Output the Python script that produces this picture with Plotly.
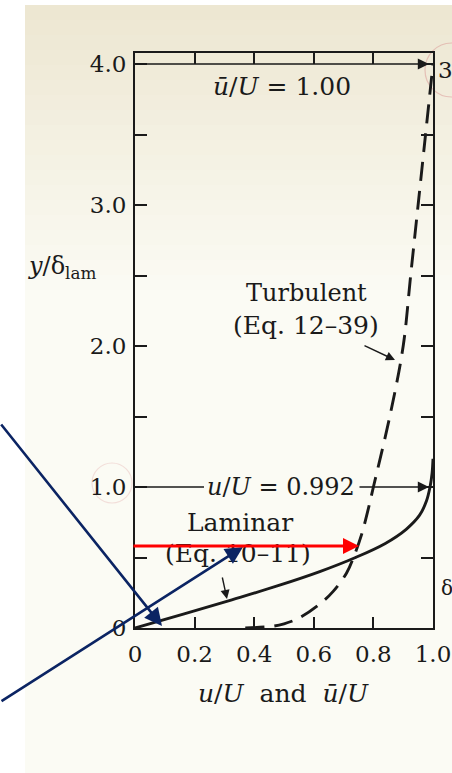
import plotly.graph_objects as go

# --- data -------------------------------------------------------------
# laminar profile (Eq. 10-11): u/U against y/delta_lam
lam_y = [0, 0.1, 0.2, 0.3, 0.4, 0.5, 0.6, 0.7, 0.8, 0.9, 1.0, 1.1, 1.2]
lam_u = [0, 0.165, 0.325, 0.48, 0.62, 0.74, 0.84, 0.91, 0.955, 0.978, 0.99, 0.997, 1.0]

# turbulent profile (Eq. 12-39): mean u/U against y/delta_lam
turb_y = [0, 0.012, 0.03, 0.07, 0.17, 0.26, 0.39, 0.51, 0.66, 0.82, 1.0,
          1.5, 2.0, 2.5, 3.0, 3.5, 4.0]
turb_u = [0.37, 0.46, 0.50, 0.55, 0.62, 0.665, 0.71, 0.735, 0.76, 0.78, 0.80,
          0.855, 0.90, 0.925, 0.95, 0.975, 1.0]

x_ticks = [0, 0.2, 0.4, 0.6, 0.8, 1.0]
x_labels = ["0", "0.2", "0.4", "0.6", "0.8", "1.0"]
y_ticks = [0, 0.5, 1.0, 1.5, 2.0, 2.5, 3.0, 3.5, 4.0]
y_labels = ["0", "", "1.0", "", "2.0", "", "3.0", "", "4.0"]

# --- page geometry (pixels) -------------------------------------------
W, H = 452, 773
X0, X1 = 135, 433          # plot frame, left/right
Y0, Y1 = 628, 53           # plot frame, bottom/top
PX_PER_Y = 141.0
Y_TOP = (Y0 - Y1) / PX_PER_Y

INK = "#1a1a1a"
SERIF = "DejaVu Serif"
NAVY = "#0b2463"
RED = "#ff0000"
NB = "\u00a0"


def px(x):
    return x / W


def py(y):
    return 1 - y / H


def dx(x):
    return (x - X0) / (X1 - X0)


def dy(y):
    return (Y0 - y) / PX_PER_Y


fig = go.Figure()

fig.add_trace(go.Scatter(x=lam_u, y=lam_y, mode="lines",
                         line=dict(color=INK, width=2.9),
                         line_shape="spline", hoverinfo="skip"))
fig.add_trace(go.Scatter(x=turb_u, y=turb_y, mode="lines",
                         line=dict(color=INK, width=2.9, dash="19px,10px"),
                         line_shape="spline", hoverinfo="skip"))

shapes = []

# aged paper: white margin, then a warm tint fading downwards
shapes.append(dict(type="rect", xref="paper", yref="paper", x0=0, x1=1, y0=0, y1=1,
                   fillcolor="white", line_width=0, layer="below"))
top_c = (237, 231, 210)
mid_c = (251, 251, 244)
band_edges = list(range(5, 300, 15)) + [H]
for i in range(len(band_edges) - 1):
    a, b = band_edges[i], band_edges[i + 1]
    t = min(1.0, (a - 5) / 280)
    c = tuple(round(top_c[k] + (mid_c[k] - top_c[k]) * t) for k in range(3))
    shapes.append(dict(type="rect", xref="paper", yref="paper",
                       x0=px(25), x1=1, y0=py(b), y1=py(a),
                       fillcolor="rgb(%d,%d,%d)" % c, line_width=0, layer="below"))

# faint pen circles on the page
shapes.append(dict(type="circle", xref="paper", yref="paper",
                   x0=px(425), x1=px(478), y0=py(97), y1=py(43),
                   line=dict(color="rgba(215,140,140,0.45)", width=1.2), layer="below"))
shapes.append(dict(type="circle", xref="paper", yref="paper",
                   x0=px(92), x1=px(132), y0=py(503), y1=py(463),
                   line=dict(color="rgba(225,170,170,0.35)", width=1.2), layer="below"))

# left part of the u/U = 0.992 leader line
shapes.append(dict(type="line", xref="x", yref="y", x0=0, x1=dx(204), y0=1.0, y1=1.0,
                   line=dict(color=INK, width=1.6)))
fig.update_layout(shapes=shapes)

ann = []


def arrow(x0, y0, x1, y1, color, width, size, head=2):
    ann.append(dict(x=x1, y=y1, ax=x0, ay=y0, xref="x", yref="y", axref="x", ayref="y",
                    text="", showarrow=True, arrowhead=head, arrowsize=size,
                    arrowwidth=width, arrowcolor=color, standoff=0, startstandoff=0))


def label(x, y, text, size=24, xanchor="center", yanchor="middle", ref="data"):
    d = dict(x=x, y=y, text=text, showarrow=False, xanchor=xanchor, yanchor=yanchor,
             font=dict(family=SERIF, size=size, color=INK))
    if ref == "paper":
        d.update(xref="paper", yref="paper")
    else:
        d.update(xref="x", yref="y")
    ann.append(d)


# reference velocities
arrow(0, 4.0, dx(429), 4.0, INK, 1.6, 1.4)
label(dx(282), dy(86), "<i>ū</i>/<i>U</i> = 1.00", size=25)
arrow(dx(358), 1.0, dx(429), 1.0, INK, 1.6, 1.4)
label(dx(281), 1.0, "<i>u</i>/<i>U</i> = 0.992", size=24)

# curve labels with pointers
label(dx(306), dy(293), "Turbulent", size=24)
label(dx(306), dy(325), "(Eq. 12–39)", size=25)
arrow(dx(363), dy(345), dx(395), dy(360), INK, 1.4, 1.3)
label(dx(240), dy(522), "Laminar", size=25)
label(dx(238), dy(553), "(Eq. 10–11)", size=25)
arrow(dx(222), dy(576), dx(227), dy(599), INK, 1.4, 1.3)

# axis titles
label(px(62), py(268), "<i>y</i>/δ<sub>lam</sub>", size=24, ref="paper")
label(px(283), py(693), "<i>u</i>/<i>U</i>" + NB * 2 + "and" + NB * 2 + "<i>ū</i>/<i>U</i>",
      size=25, ref="paper")

# fragments of the neighbouring figure at the page edge
label(px(436), py(70), "3", size=23, xanchor="left", ref="paper")
label(px(439), py(588), "δ", size=20, xanchor="left", ref="paper")

# presenter's overlay arrows
arrow(dx(0), dy(423), dx(162), dy(626), NAVY, 2.6, 1.35)
arrow(dx(0), dy(702), dx(243), dy(547), NAVY, 2.6, 1.35)
arrow(dx(132), dy(546), dx(359), dy(546), RED, 3.2, 1.0)
arrow(dx(132), dy(629), dx(193), dy(629), RED, 3.2, 1.0)

fig.update_layout(
    width=W, height=H,
    margin=dict(l=0, r=0, t=0, b=0, autoexpand=False),
    paper_bgcolor="white", plot_bgcolor="rgba(0,0,0,0)",
    showlegend=False, annotations=ann,
    xaxis=dict(domain=[px(X0), px(X1)], range=[0, 1.0], automargin=False,
               tickvals=x_ticks, ticktext=x_labels,
               ticks="inside", ticklen=11, tickwidth=1.5, tickcolor=INK,
               showline=True, linewidth=2, linecolor=INK, mirror="ticks",
               showgrid=False, zeroline=False, ticklabelstandoff=4,
               tickfont=dict(family=SERIF, size=23, color=INK)),
    yaxis=dict(domain=[py(Y0), py(Y1)], range=[0, Y_TOP], automargin=False,
               tickvals=y_ticks, ticktext=y_labels,
               ticks="inside", ticklen=12, tickwidth=1.5, tickcolor=INK,
               showline=True, linewidth=2, linecolor=INK, mirror="ticks",
               showgrid=False, zeroline=False, ticklabelstandoff=2,
               tickfont=dict(family=SERIF, size=23, color=INK)),
)

fig.write_html("out.html")
